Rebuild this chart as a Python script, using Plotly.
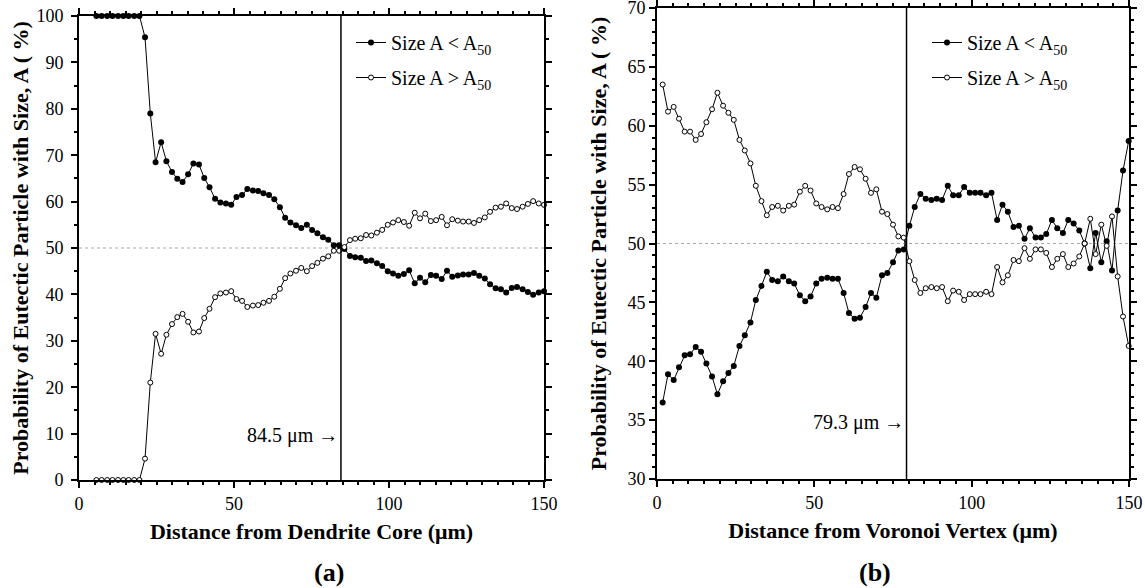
import plotly.graph_objects as go

# ---------------- Data: panel (a) ----------------
dist_a = [5.6, 7.3, 9.1, 10.8, 12.6, 14.3, 16.0, 17.8, 19.5, 21.3, 23.0, 24.7, 26.5, 28.2,
          30.0, 31.7, 33.4, 35.2, 36.9, 38.7, 40.4, 42.1, 43.9, 45.6, 47.4, 49.1, 50.8, 52.6,
          54.3, 56.1, 57.8, 59.5, 61.3, 63.0, 64.8, 66.5, 68.2, 70.0, 71.7, 73.5, 75.2, 76.9,
          78.7, 80.4, 82.2, 83.9, 85.6, 87.4, 89.1, 90.9, 92.6, 94.3, 96.1, 97.8, 99.6, 101.3,
          103.0, 104.8, 106.5, 108.3, 110.0, 111.7, 113.5, 115.2, 117.0, 118.7, 120.4, 122.2,
          123.9, 125.7, 127.4, 129.1, 130.9, 132.6, 134.4, 136.1, 137.8, 139.6, 141.3, 143.1,
          144.8, 146.5, 148.3, 150.0]
small_a = [100, 100, 100, 100, 100, 100, 100, 100, 100, 95.4, 79.0, 68.5, 72.8, 68.7,
           66.4, 64.9, 64.2, 65.9, 68.2, 68.0, 65.1, 63.1, 60.6, 59.8, 59.6, 59.3, 61.0, 61.4,
           62.7, 62.4, 62.3, 61.8, 61.4, 60.5, 58.8, 56.5, 55.5, 54.9, 54.3, 55.0, 53.9, 53.2,
           52.3, 51.8, 50.6, 50.6, 49.8, 48.3, 48.0, 47.9, 47.2, 47.3, 46.7, 46.1, 45.0, 44.5,
           44.0, 44.4, 45.2, 42.4, 43.6, 42.6, 44.2, 44.0, 43.3, 45.1, 43.8, 44.1, 44.3, 44.3,
           44.6, 44.0, 43.4, 42.2, 41.3, 41.1, 40.4, 41.4, 41.6, 41.1, 40.5, 39.9, 40.4, 40.7]
large_a = [0, 0, 0, 0, 0, 0, 0, 0, 0, 4.6, 21.0, 31.5, 27.2, 31.3,
           33.6, 35.1, 35.8, 34.1, 31.8, 32.0, 34.9, 36.9, 39.4, 40.2, 40.4, 40.7, 39.0, 38.6,
           37.3, 37.6, 37.7, 38.2, 38.6, 39.5, 41.2, 43.5, 44.5, 45.1, 45.7, 45.0, 46.1, 46.8,
           47.7, 48.2, 49.4, 49.4, 50.2, 51.7, 52.0, 52.1, 52.8, 52.7, 53.3, 53.9, 55.0, 55.5,
           56.0, 55.6, 54.8, 57.6, 56.4, 57.4, 55.8, 56.0, 56.7, 54.9, 56.2, 55.9, 55.7, 55.7,
           55.4, 56.0, 56.6, 57.8, 58.7, 58.9, 59.6, 58.6, 58.4, 58.9, 59.5, 60.1, 59.6, 59.3]

# ---------------- Data: panel (b) ----------------
dist_b = [1.8, 3.5, 5.3, 7.0, 8.8, 10.5, 12.3, 14.0, 15.7, 17.5, 19.2, 21.0, 22.7, 24.4,
          26.2, 27.9, 29.7, 31.4, 33.2, 34.9, 36.6, 38.4, 40.1, 41.9, 43.6, 45.4, 47.1, 48.8,
          50.6, 52.3, 54.1, 55.8, 57.5, 59.3, 61.0, 62.8, 64.5, 66.3, 68.0, 69.7, 71.5, 73.2,
          75.0, 76.7, 78.4, 80.2, 81.9, 83.7, 85.4, 87.2, 88.9, 90.6, 92.4, 94.1, 95.9, 97.6,
          99.4, 101.1, 102.8, 104.6, 106.3, 108.1, 109.8, 111.5, 113.3, 115.0, 116.8, 118.5,
          120.3, 122.0, 123.7, 125.5, 127.2, 129.0, 130.7, 132.4, 134.2, 135.9, 137.7, 139.4,
          141.2, 142.9, 144.6, 146.4, 148.1, 149.9]
small_b = [36.5, 38.9, 38.4, 39.5, 40.5, 40.6, 41.2, 40.8, 39.8, 38.7, 37.2, 38.3, 39.0, 39.6,
           41.3, 42.2, 43.3, 45.2, 46.4, 47.6, 46.9, 46.8, 47.2, 46.8, 46.6, 45.6, 45.1, 45.5,
           46.6, 47.0, 47.1, 47.0, 47.0, 45.8, 44.1, 43.6, 43.7, 44.6, 45.8, 45.4, 47.3, 47.5,
           48.4, 49.4, 49.5, 51.5, 53.1, 54.2, 53.8, 53.7, 53.8, 53.7, 54.9, 54.1, 54.1, 54.8,
           54.3, 54.3, 54.3, 54.1, 54.3, 52.0, 53.3, 52.7, 51.4, 51.5, 50.4, 51.3, 50.5, 50.5,
           50.8, 52.0, 51.3, 50.9, 52.0, 51.7, 51.1, 50.0, 47.9, 50.9, 48.4, 50.2, 47.7, 52.8,
           56.2, 58.7]
large_b = [63.5, 61.2, 61.6, 60.6, 59.5, 59.5, 58.8, 59.3, 60.3, 61.4, 62.8, 61.7, 61.1, 60.5,
           58.8, 57.9, 56.8, 54.9, 53.6, 52.4, 53.1, 53.2, 52.8, 53.2, 53.3, 54.4, 54.9, 54.5,
           53.4, 53.1, 52.9, 53.1, 53.0, 54.2, 55.9, 56.5, 56.3, 55.5, 54.3, 54.6, 52.7, 52.5,
           51.6, 50.6, 50.5, 48.5, 46.9, 45.8, 46.2, 46.3, 46.2, 46.3, 45.1, 46.0, 45.9, 45.2,
           45.7, 45.7, 45.7, 45.9, 45.7, 48.0, 46.7, 47.3, 48.6, 48.5, 49.6, 48.7, 49.5, 49.5,
           49.2, 48.0, 48.7, 49.1, 48.0, 48.3, 48.9, 50.0, 52.1, 49.1, 51.6, 49.8, 52.3, 47.2,
           43.8, 41.3]

d50_a = 84.5
d50_b = 79.3

series_names = ["Size A < A<sub>50</sub>", "Size A > A<sub>50</sub>"]
x_titles = ["Distance from Dendrite Core (\u03bcm)", "Distance from Voronoi Vertex (\u03bcm)"]
y_title = "Probability of Eutectic Particle with Size, A ( %)"
panel_labels = ["(a)", "(b)"]

FONT = "Liberation Serif"

fig = go.Figure()

filled = dict(symbol="circle", size=6, color="black")
opened = dict(symbol="circle", size=5, color="white", line=dict(color="black", width=1))

fig.add_trace(go.Scatter(x=dist_a, y=small_a, mode="lines+markers", name=series_names[0],
                         line=dict(color="black", width=1), marker=filled, legendgroup="a1",
                         xaxis="x", yaxis="y", legend="legend", cliponaxis=False))
fig.add_trace(go.Scatter(x=dist_a, y=large_a, mode="lines+markers", name=series_names[1],
                         line=dict(color="black", width=1), marker=opened, legendgroup="a2",
                         xaxis="x", yaxis="y", legend="legend", cliponaxis=False))
fig.add_trace(go.Scatter(x=dist_b, y=small_b, mode="lines+markers", name=series_names[0],
                         line=dict(color="black", width=1), marker=filled, legendgroup="b1",
                         xaxis="x2", yaxis="y2", legend="legend2", cliponaxis=False))
fig.add_trace(go.Scatter(x=dist_b, y=large_b, mode="lines+markers", name=series_names[1],
                         line=dict(color="black", width=1), marker=opened, legendgroup="b2",
                         xaxis="x2", yaxis="y2", legend="legend2", cliponaxis=False))

W, H = 1145, 588


def px(v):
    return v / W


def py(v):
    return 1 - v / H


axis_common = dict(showline=True, linecolor="black", linewidth=2, mirror="allticks",
                   ticks="outside", ticklen=6, tickwidth=1.5, tickcolor="black",
                   showgrid=False, zeroline=False, automargin=False,
                   ticklabeloverflow="allow",
                   tickfont=dict(family=FONT, size=18, color="black"))
title_font = dict(family=FONT, size=22, color="black")

fig.update_layout(
    width=W, height=H,
    margin=dict(l=0, r=0, t=0, b=0, pad=0, autoexpand=False),
    paper_bgcolor="white", plot_bgcolor="white",
    font=dict(family=FONT, color="black"),
    xaxis=dict(domain=[px(79), px(544)], range=[0, 150], tickvals=[0, 50, 100, 150],
               minor=dict(dtick=5, ticks="outside", ticklen=3, tickcolor="black"),
               anchor="y",
               title=dict(text="<b>" + x_titles[0] + "</b>", font=title_font, standoff=11),
               **axis_common),
    yaxis=dict(domain=[py(480), py(16)], range=[0, 100], dtick=10,
               minor=dict(dtick=5, ticks="outside", ticklen=3, tickcolor="black"),
               anchor="x", ticklabelstandoff=4,
               title=dict(text="<b>" + y_title + "</b>", font=title_font, standoff=2),
               **axis_common),
    xaxis2=dict(domain=[px(657), px(1129)], range=[0, 150], tickvals=[0, 50, 100, 150],
                minor=dict(dtick=5, ticks="outside", ticklen=3, tickcolor="black"),
                anchor="y2",
                title=dict(text="<b>" + x_titles[1] + "</b>", font=title_font, standoff=11),
                **axis_common),
    yaxis2=dict(domain=[py(479), py(8)], range=[30, 70], dtick=5,
                minor=dict(dtick=1, ticks="outside", ticklen=3, tickcolor="black"),
                anchor="x2",
                title=dict(text="<b>" + y_title + "</b>", font=title_font, standoff=15),
                **axis_common),
    legend=dict(x=px(351), y=py(23), xanchor="left", yanchor="top",
                bgcolor="rgba(0,0,0,0)", font=dict(family=FONT, size=20, color="black"),
                tracegroupgap=6),
    legend2=dict(x=px(927), y=py(23), xanchor="left", yanchor="top",
                 bgcolor="rgba(0,0,0,0)", font=dict(family=FONT, size=20, color="black"),
                 tracegroupgap=6),
    showlegend=True,
)

# reference lines
fig.add_shape(type="line", xref="x", yref="y", x0=0, x1=150, y0=50, y1=50,
              line=dict(color="#aaaaaa", width=1, dash="dot"), layer="below")
fig.add_shape(type="line", xref="x", yref="y", x0=d50_a, x1=d50_a, y0=0, y1=100,
              line=dict(color="black", width=1.5))
fig.add_shape(type="line", xref="x2", yref="y2", x0=0, x1=150, y0=50, y1=50,
              line=dict(color="#aaaaaa", width=1, dash="dot"), layer="below")
fig.add_shape(type="line", xref="x2", yref="y2", x0=d50_b, x1=d50_b, y0=30, y1=70,
              line=dict(color="black", width=1.5))

fig.add_annotation(x=d50_a, y=9.6, xref="x", yref="y", text=f"{d50_a} \u03bcm \u2192",
                   showarrow=False, xanchor="right", xshift=-1,
                   font=dict(family=FONT, size=20, color="black"))
fig.add_annotation(x=d50_b, y=34.8, xref="x2", yref="y2", text=f"{d50_b} \u03bcm \u2192",
                   showarrow=False, xanchor="right", xshift=-1,
                   font=dict(family=FONT, size=20, color="black"))

fig.add_annotation(x=px(311.5), y=py(572), xref="paper", yref="paper", yanchor="middle",
                   text="<b>" + panel_labels[0] + "</b>", showarrow=False,
                   font=dict(family=FONT, size=26, color="black"))
fig.add_annotation(x=px(893), y=py(572), xref="paper", yref="paper", yanchor="middle",
                   text="<b>" + panel_labels[1] + "</b>", showarrow=False,
                   font=dict(family=FONT, size=26, color="black"))

# remove the default page margin so the 1145x588 figure fills the window exactly
fig.write_html("out.html",
               config={"displayModeBar": False},
               post_script="document.body.style.margin='0';document.body.style.overflow='hidden';")
